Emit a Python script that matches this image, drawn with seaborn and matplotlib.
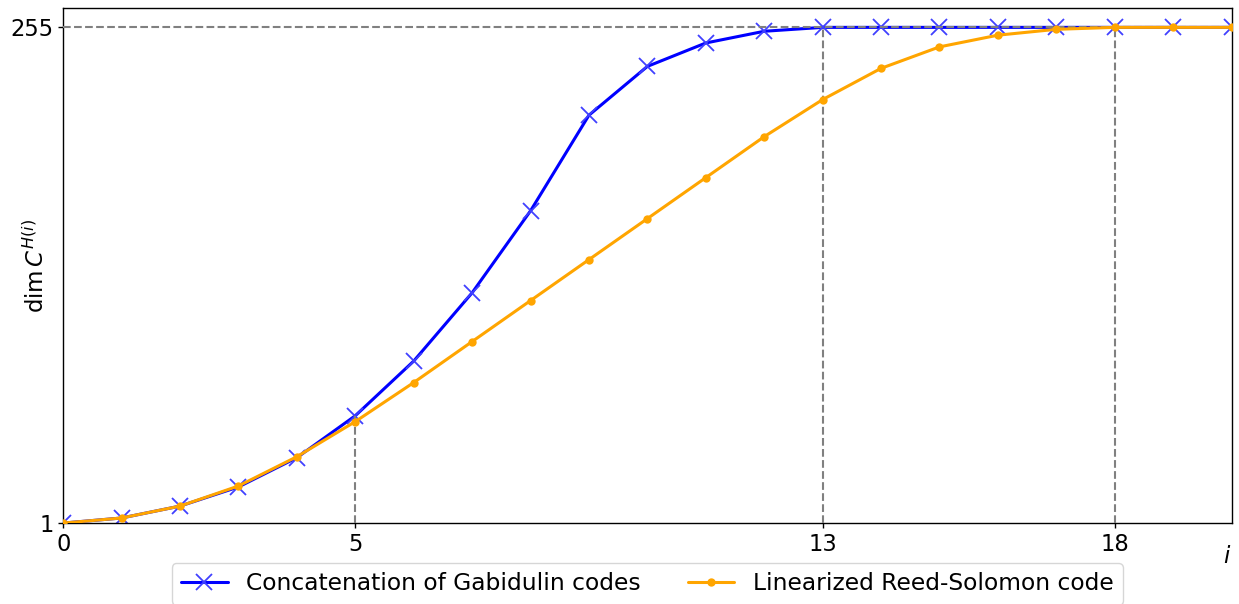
import numpy as np
import pandas as pd
import matplotlib
matplotlib.use('Agg')
import matplotlib.pyplot as plt
import seaborn as sns

# DATA
steps = list(range(21))
gabidulin_dim = [1, 3.6, 9.7, 19.5, 34.5, 56, 84, 119, 161, 210, 235, 247, 253,
                 255, 255, 255, 255, 255, 255, 255, 255]
lrs_dim = [1, 3.6, 9.7, 20, 35, 53, 73, 94, 115, 136, 157, 178, 199,
           218, 234, 245, 251, 254, 255, 255, 255]
marked_steps = [5, 13, 18]

sns.set_style('ticks')
plt.rcParams['font.family'] = ['DejaVu Sans']
plt.rcParams['text.color'] = 'black'
plt.rcParams['axes.labelcolor'] = 'black'

df = pd.DataFrame({'i': steps, 'gab': gabidulin_dim, 'lrs': lrs_dim})

fig, ax = plt.subplots(figsize=(12.39, 6.04), dpi=100)

sns.lineplot(
    data=df, x='i', y='gab',
    color='blue', linewidth=2.2,
    marker='x', markersize=12, markeredgewidth=1.3,
    markeredgecolor=(0.25, 0.25, 1.0),
    label='Concatenation of Gabidulin codes',
    ax=ax, zorder=2
)

# reference lines
ax.axhline(255, color='gray', linestyle='--', linewidth=1.5, zorder=3)
for s in marked_steps:
    ax.vlines(s, 1, gabidulin_dim[s], color='gray', linestyle='--',
              linewidth=1.5, zorder=3)

sns.lineplot(
    data=df, x='i', y='lrs',
    color='orange', linewidth=2.2,
    marker='o', markersize=6, markeredgewidth=0,
    label='Linearized Reed-Solomon code',
    ax=ax, zorder=4
)

ax.set_xlim(0, 20)
ax.set_ylim(1, 265)
ax.set_xticks([0, 5, 13, 18])
ax.set_yticks([1, 255])
ax.tick_params(labelsize=16.3, length=3.5, width=1, color='black', labelcolor='black')

for sp in ax.spines.values():
    sp.set_color('black')
    sp.set_linewidth(1)

ax.set_ylabel(r'$\dim C^{H(i)}$', fontsize=16.5)
ax.yaxis.set_label_coords(-0.012, 0.5)
ax.set_xlabel('$i$', fontsize=16.5, loc='right')
ax.xaxis.set_label_coords(1.0, -0.042)

ax.legend(
    loc='upper center',
    bbox_to_anchor=(0.5, -0.055),
    ncol=2,
    fontsize=16.8,
    handlelength=2.0,
    frameon=True
)

plt.subplots_adjust(left=0.051, right=0.994, top=0.987, bottom=0.134)
plt.savefig('out.png', dpi=100)
